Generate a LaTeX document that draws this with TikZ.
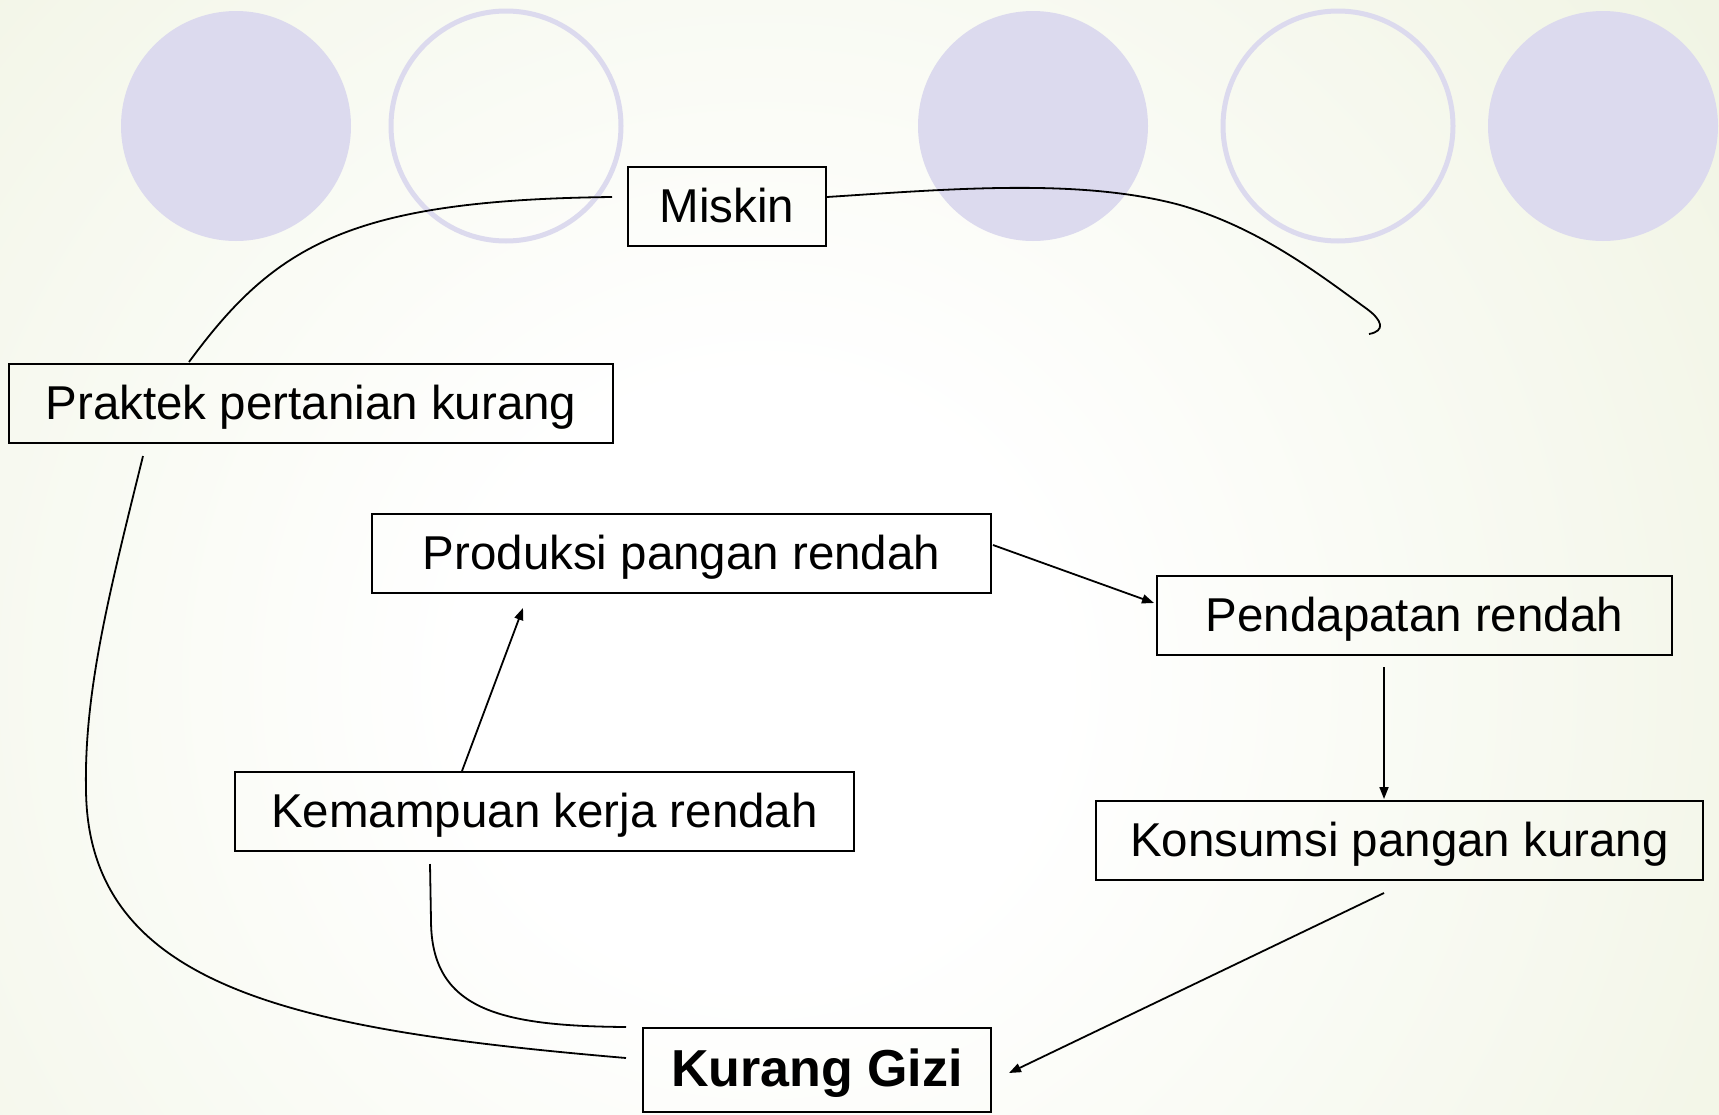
\documentclass[tikz,border=0pt]{standalone}
\usepackage{fontspec}
\setmainfont{Liberation Sans}
\usetikzlibrary{arrows.meta,calc}
\definecolor{bgg}{HTML}{E2E9C8}
\definecolor{lav}{HTML}{DCDAEE}
\pgfdeclareradialshading{bgshade}{\pgfpoint{0bp}{0bp}}{color(0bp)=(white); color(6bp)=(white); color(41bp)=(bgg); color(50bp)=(bgg)}
\tikzset{
  box/.style={draw=black, line width=2pt, fill=none, rectangle, inner sep=0pt, minimum height=79pt,
    text height=42pt, text depth=10pt,
    font=\fontsize{47.5}{57}\selectfont},
  conn/.style={draw=black, line width=1.8pt},
  arr/.style={conn, -{Triangle[length=12pt,width=9pt]}},
  fcirc/.style={fill=lav, draw=none},
  ocirc/.style={draw=lav, line width=5pt, fill=none},
}
\begin{document}
\begin{tikzpicture}[x=1pt,y=-1pt]
\useasboundingbox (0,0) rectangle (1719,1114);
\begin{scope}
\clip (0,0) rectangle (1719,1114);
\shade[shading=bgshade] (760,680) circle (1250);
\end{scope}
% decorative circles
\fill[fcirc] (236,126) circle (115);
\draw[ocirc] (506,126) circle (115);
\fill[fcirc] (1033,126) circle (115);
\draw[ocirc] (1338,126) circle (115);
\fill[fcirc] (1603,126) circle (115);
% nodes
\node[box, minimum width=198pt] (miskin) at (727,206.5) {Miskin};
\node[box, minimum width=604pt] (praktek) at (311,403.5) {Praktek pertanian kurang};
\node[box, minimum width=619pt] (produksi) at (681.5,553.5) {Produksi pangan rendah};
\node[box, minimum width=515pt] (pendapatan) at (1414.5,615.5) {Pendapatan rendah};
\node[box, minimum width=607pt] (konsumsi) at (1399.5,840.5) {Konsumsi pangan kurang};
\node[box, minimum width=619pt] (kemampuan) at (544.5,811.5) {Kemampuan kerja rendah};
\node[box, minimum width=348pt, minimum height=84pt, text height=44pt, text depth=12pt, font=\fontsize{52}{60}\selectfont\bfseries] (gizi) at (817,1070) {Kurang Gizi};
\coordinate (hook) at (1369,334);
% curved connectors
\draw[conn] ($(miskin.west)+(-15,-9.5)$) .. controls (350,200) and (275,245) .. ($(praktek.north west)+(181,-1)$);
\draw[conn] ($(miskin.east)+(0,-9.5)$) .. controls (950,189) and (1080,178) .. (1180,205)
   .. controls (1260,228) and (1320,275) .. (1367,309)
   .. controls (1382,320) and (1386,331) .. (hook);
\draw[conn] ($(praktek.south west)+(135,12)$) .. controls (110,590) and (84,690) .. (86,790)
   .. controls (88,990) and (300,1030) .. ($(gizi.west)+(-16,-12)$);
\draw[conn] ($(kemampuan.south west)+(196,12)$) -- (431,920) .. controls (431,1010) and (500,1026) .. ($(gizi.north west)+(-16,0)$);
% arrows
\draw[arr] ($(kemampuan.north)+(-82.5,0)$) -- ($(produksi.south)+(-158.5,14)$);
\draw[arr] ($(produksi.east)+(1,-8.5)$) -- ($(pendapatan.west)+(-2,-12.5)$);
\draw[arr] ($(pendapatan.south)+(-30.5,11)$) -- ($(konsumsi.north)+(-15.5,-1)$);
\draw[arr] ($(konsumsi.south)+(-15.5,12)$) -- ($(gizi.east)+(17,3)$);
\end{tikzpicture}
\end{document}
